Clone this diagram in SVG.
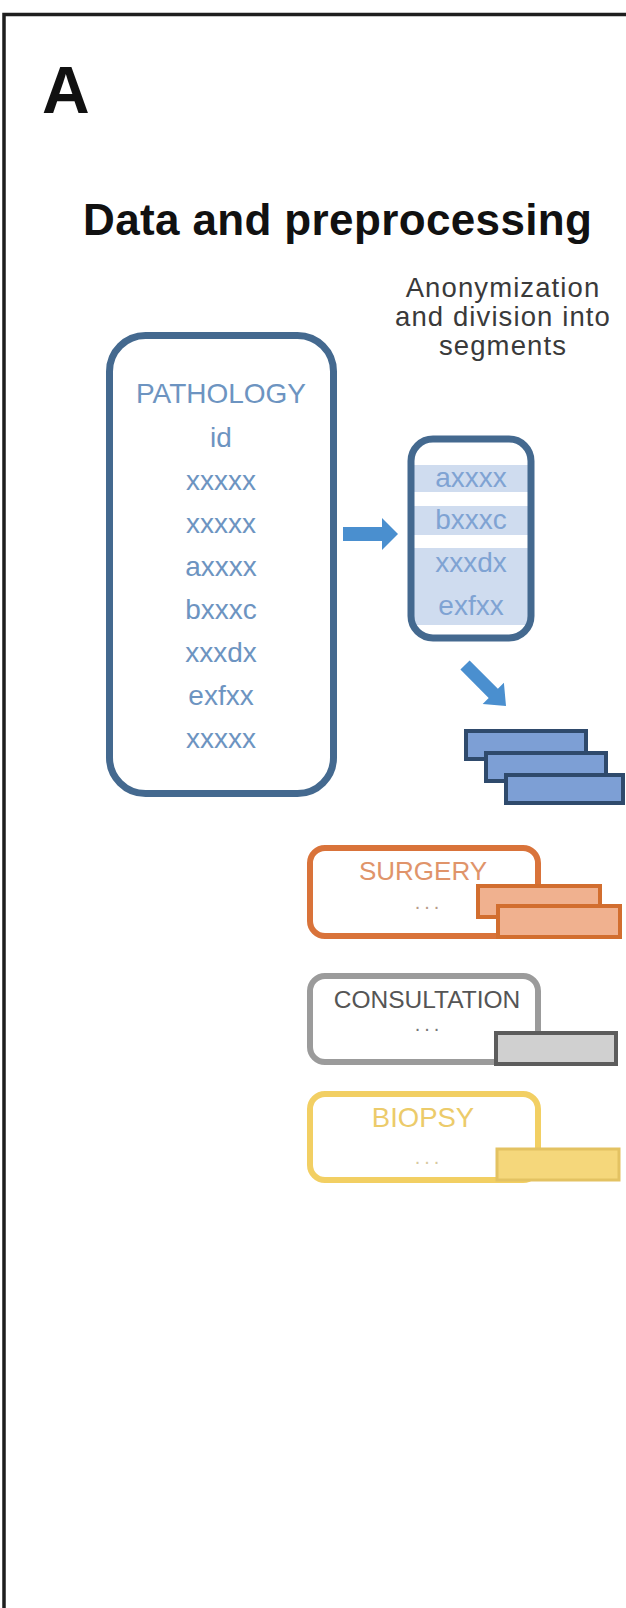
<svg xmlns="http://www.w3.org/2000/svg" width="626" height="1608" viewBox="0 0 626 1608">
  <style>
    .frame { fill: none; stroke: #1e1e1e; stroke-width: 3.5; }
    .panel { font-family: "Liberation Sans", Arial, sans-serif; font-weight: bold; fill: #111; }
    .caption { font-family: "Liberation Sans", Arial, sans-serif; font-size: 27.5px; letter-spacing: 1.1px; fill: #3a3a3a; text-anchor: middle; }
    .rec { font-family: "Liberation Sans", Arial, sans-serif; font-size: 28px; text-anchor: middle; }
    .label-surg { font-size: 26px; fill: #e0946a; }
    .label-cons { font-size: 24.5px; fill: #555; }
    .label-biop { font-size: 27.5px; fill: #eccb6a; }
    .path-box { fill: #fff; stroke: #44698f; stroke-width: 7; }
    .path-txt { fill: #6d94c1; }
    .seg-txt { fill: #7fa3d3; }
    .band { fill: #cfdcef; }
    .flow { fill: #4a8fcf; }
    .blue-seg { fill: #7d9fd5; stroke: #2f4a6c; stroke-width: 4; }
    .surg-box { fill: #fff; stroke: #d9733a; stroke-width: 6; }
    .surg-seg { fill: #f0b18f; stroke: #d26e2f; stroke-width: 4; }
    .cons-box { fill: #fff; stroke: #9b9b9b; stroke-width: 6; }
    .cons-seg { fill: #d0d0d0; stroke: #5c5c5c; stroke-width: 4; }
    .biop-box { fill: #fff; stroke: #f2cf63; stroke-width: 6; }
    .biop-seg { fill: #f5d77b; stroke: #e3c262; stroke-width: 3; }
    .dots { font-family: "Liberation Sans", Arial, sans-serif; font-size: 20px; text-anchor: middle; letter-spacing: 4px; }
  </style>

  <rect width="626" height="1608" fill="#fff"/>
  <!-- panel frame: top and left edges -->
  <path class="frame" d="M4 1608 V14.5 H626"/>

  <g id="panel-label">
    <text class="panel" x="42" y="113" font-size="66">A</text>
  </g>
  <g id="title">
    <text class="panel" x="83" y="235" font-size="44" textLength="509">Data and preprocessing</text>
  </g>

  <g id="step-caption">
    <text class="caption" x="503" y="297">Anonymization</text>
    <text class="caption" x="503" y="326">and division into</text>
    <text class="caption" x="503" y="355">segments</text>
  </g>

  <!-- full pathology record -->
  <g id="pathology-record">
    <rect class="path-box" x="109.5" y="335.5" width="224" height="458" rx="36"/>
    <g class="rec path-txt">
      <text x="221" y="403">PATHOLOGY</text>
      <text x="221" y="447">id</text>
      <text x="221" y="490">xxxxx</text>
      <text x="221" y="533">xxxxx</text>
      <text x="221" y="576">axxxx</text>
      <text x="221" y="619">bxxxc</text>
      <text x="221" y="662">xxxdx</text>
      <text x="221" y="705">exfxx</text>
      <text x="221" y="748">xxxxx</text>
    </g>
  </g>

  <!-- anonymized record split into segments -->
  <g id="segmented-record">
    <rect x="411" y="439" width="120" height="199" rx="22" fill="#fff"/>
    <rect class="band" x="414" y="465" width="114" height="27"/>
    <rect class="band" x="414" y="506" width="114" height="29"/>
    <rect class="band" x="414" y="548" width="114" height="77"/>
    <rect x="411" y="439" width="120" height="199" rx="22" fill="none" stroke="#44698f" stroke-width="7"/>
    <g class="rec seg-txt">
      <text x="471" y="487">axxxx</text>
      <text x="471" y="529">bxxxc</text>
      <text x="471" y="572">xxxdx</text>
      <text x="471" y="615">exfxx</text>
    </g>
  </g>

  <g id="connectors">
    <!-- record to segments -->
    <path class="flow" d="M343 527 H382 V518 L398 534 L382 550 V541 H343 Z"/>
    <!-- segments to segment stack -->
    <path class="flow" transform="translate(465 665) rotate(45)" d="M0 -6.5 H40 V-15 L58 0 L40 15 V6.5 H0 Z"/>
  </g>

  <g id="pathology-segments">
    <rect class="blue-seg" x="466" y="731" width="120" height="28"/>
    <rect class="blue-seg" x="486" y="753" width="120" height="28"/>
    <rect class="blue-seg" x="506" y="775" width="117" height="28"/>
  </g>

  <g id="surgery">
    <rect class="surg-box" x="310" y="848" width="228" height="88" rx="15"/>
    <text class="rec label-surg" x="423" y="880">SURGERY</text>
    <text class="dots" x="429" y="909" fill="#b89a88">...</text>
    <rect class="surg-seg" x="478" y="886" width="122" height="31"/>
    <rect class="surg-seg" x="498" y="906" width="122" height="31"/>
  </g>

  <g id="consultation">
    <rect class="cons-box" x="310" y="976" width="228" height="86" rx="15"/>
    <text class="rec label-cons" x="427" y="1008">CONSULTATION</text>
    <text class="dots" x="429" y="1031" fill="#777">...</text>
    <rect class="cons-seg" x="496" y="1033" width="120" height="31"/>
  </g>

  <g id="biopsy">
    <rect class="biop-box" x="310" y="1094" width="228" height="86" rx="15"/>
    <text class="rec label-biop" x="423" y="1127">BIOPSY</text>
    <text class="dots" x="429" y="1164" fill="#d8c9a0">...</text>
    <rect class="biop-seg" x="497" y="1149" width="122" height="31"/>
  </g>
</svg>
